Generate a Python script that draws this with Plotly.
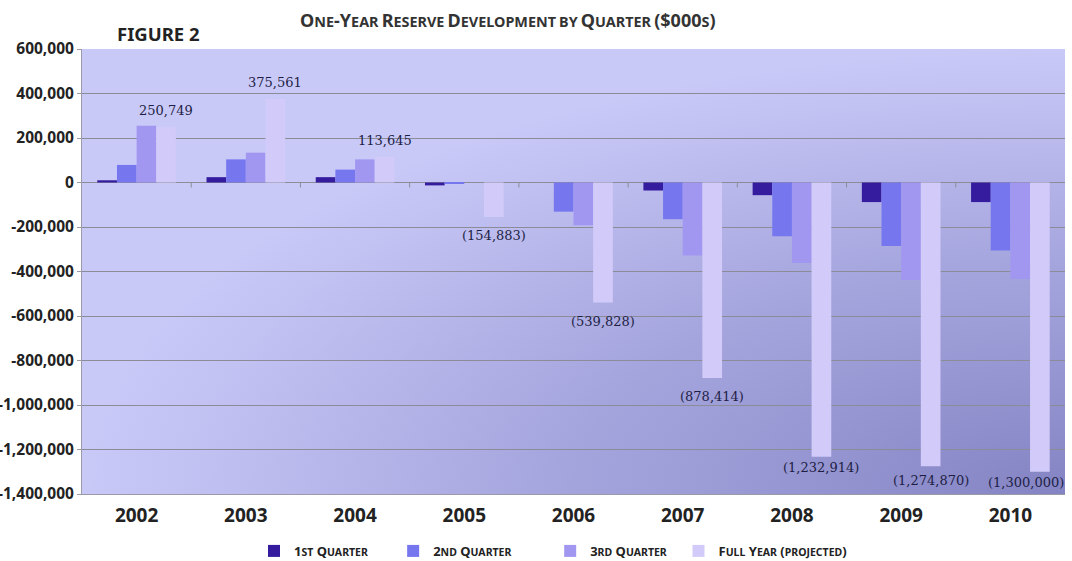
import base64
import plotly.graph_objects as go

years = ['2002', '2003', '2004', '2005', '2006', '2007', '2008', '2009', '2010']
q1 = [10000, 24000, 24000, -13000, 0, -36000, -57000, -88000, -88000]
q2 = [79000, 104000, 58000, -3000, -131000, -165000, -242000, -285000, -306000]
q3 = [255000, 134000, 104000, 0, -192000, -328000, -362000, -438000, -434000]
full_year = [250749, 375561, 113645, -154883, -539828, -878414, -1232914, -1274870, -1300000]

y_tickvals = [600000, 400000, 200000, 0, -200000, -400000, -600000, -800000,
              -1000000, -1200000, -1400000]
y_ticktext = ['600,000', '400,000', '200,000', '0', '-200,000', '-400,000', '-600,000',
              '-800,000', '-1,000,000', '-1,200,000', '-1,400,000']

# label placement offsets in pixels (style only, not data)
label_xshift = [29.5, 29.5, 29.5, 29.5, 29.5, 29.5, 29.5, 29.5, 15.5]
label_yshift = [7, 7, 7, -9, -9, -9, -1, -5, -1]


def smallcaps(text, big, small):
    out = []
    for w in text.split(' '):
        s = ''
        for ch in w:
            if ch.isupper() or ch.isdigit() or ch in '($-)':
                s += f"<span style='font-size:{big}px'>{ch}</span>"
            else:
                s += f"<span style='font-size:{small}px'>{ch.upper()}</span>"
        out.append(s)
    return ' '.join(out)


def fmt(v):
    return f"{v:,}" if v >= 0 else f"({-v:,})"


fy_text = [fmt(v) for v in full_year]

colors = ['#351c9e', '#7676ef', '#a197f1', '#d2cbf9']
pad = ['&nbsp;' * 6, '&nbsp;' * 10, '&nbsp;' * 2, '']
names = [smallcaps('1st Quarter', 13, 10.5) + pad[0],
         smallcaps('2nd Quarter', 13, 10.5) + pad[1],
         smallcaps('3rd Quarter', 13, 10.5) + pad[2],
         smallcaps('Full Year (projected)', 13, 10.5)]

fig = go.Figure()
for vals, col, nm in zip([q1, q2, q3], colors[:3], names[:3]):
    fig.add_trace(go.Bar(x=years, y=vals, name=nm, marker=dict(color=col, line=dict(width=0))))
fig.add_trace(go.Bar(x=years, y=full_year, name=names[3],
                     marker=dict(color=colors[3], line=dict(width=0))))

# data labels of the full-year bars, placed at the bar ends through the axes
label_annots = []
for i, (v, t) in enumerate(zip(full_year, fy_text)):
    label_annots.append(dict(
        x=i, y=v, xref='x', yref='y', text=t, showarrow=False,
        xshift=label_xshift[i], yshift=label_yshift[i],
        yanchor='bottom' if v >= 0 else 'top', xanchor='center',
        font=dict(family='DejaVu Serif', size=13, color='#1e1e44')))

# small category-separator tick marks on the zero line (Excel style)
tick_shapes = [dict(type='line', xref='x', yref='y', x0=i + 0.5, x1=i + 0.5,
                    ysizemode='pixel', yanchor=0, y0=0, y1=-5,
                    line=dict(color='#8c8c98', width=1), layer='above')
               for i in range(len(years) - 1)]

svg = ("<svg xmlns='http://www.w3.org/2000/svg' width='1000' height='450' viewBox='0 0 1000 450' "
       "preserveAspectRatio='none'><defs><radialGradient id='g' cx='1' cy='1' r='1' fx='1' fy='1'>"
       "<stop offset='0' stop-color='#8484c4'/><stop offset='0.5' stop-color='#a4a4dd'/>"
       "<stop offset='1' stop-color='#c9c9f8'/></radialGradient></defs>"
       "<rect width='1000' height='450' fill='url(#g)'/></svg>")
src = 'data:image/svg+xml;base64,' + base64.b64encode(svg.encode()).decode()

fig.update_layout(
    width=1072, height=561,
    margin=dict(l=82, r=7, t=49, b=67, autoexpand=False),
    paper_bgcolor='white', plot_bgcolor='rgba(0,0,0,0)',
    barmode='group', bargap=0.28, bargroupgap=0,
    font=dict(family='Noto Sans', color='#222222'),
    showlegend=True,
    legend=dict(orientation='h', x=0.175, y=-0.128, xanchor='left', yanchor='middle',
                font=dict(family='Noto Sans', size=13, color='#222222', weight='bold'),
                bgcolor='rgba(0,0,0,0)', itemwidth=30, traceorder='normal'),
    images=[dict(source=src, xref='paper', yref='paper', x=0, y=1, sizex=1, sizey=1,
                 xanchor='left', yanchor='top', sizing='stretch', layer='below')],
    shapes=tick_shapes,
    xaxis=dict(type='category', range=[-0.5, len(years) - 0.5],
               showgrid=False, showline=True, linecolor='#9a9aa8', linewidth=1,
               automargin=False, ticklabelstandoff=4,
               tickfont=dict(family='Noto Sans', size=19, color='#222222', weight='bold'),
               ticks='', mirror=False),
    yaxis=dict(range=[-1400000, 600000], tickvals=y_tickvals, ticktext=y_ticktext,
               automargin=False,
               showgrid=True, gridcolor='#8c8c98', gridwidth=1,
               zeroline=True, zerolinecolor='#8c8c98', zerolinewidth=1,
               showline=True, linecolor='#9a9aa8', linewidth=1,
               ticks='outside', ticklen=4, tickcolor='#9a9aa8',
               tickfont=dict(family='Noto Sans', size=15.5, color='#222222', weight='bold')),
    annotations=label_annots + [
        dict(text=smallcaps('One-Year Reserve Development by Quarter ($000s)', 18, 14.4),
             xref='paper', yref='paper', x=0.433, y=1.065, xanchor='center', yanchor='middle',
             showarrow=False, font=dict(family='Noto Sans', color='#333333', weight='bold')),
        dict(text='FIGURE 2', xref='paper', yref='paper', x=0.0775, y=1.035,
             xanchor='center', yanchor='middle', showarrow=False,
             font=dict(family='Noto Sans', size=18.5, color='#222222', weight='bold')),
    ],
)

fig.write_html('out.html')
